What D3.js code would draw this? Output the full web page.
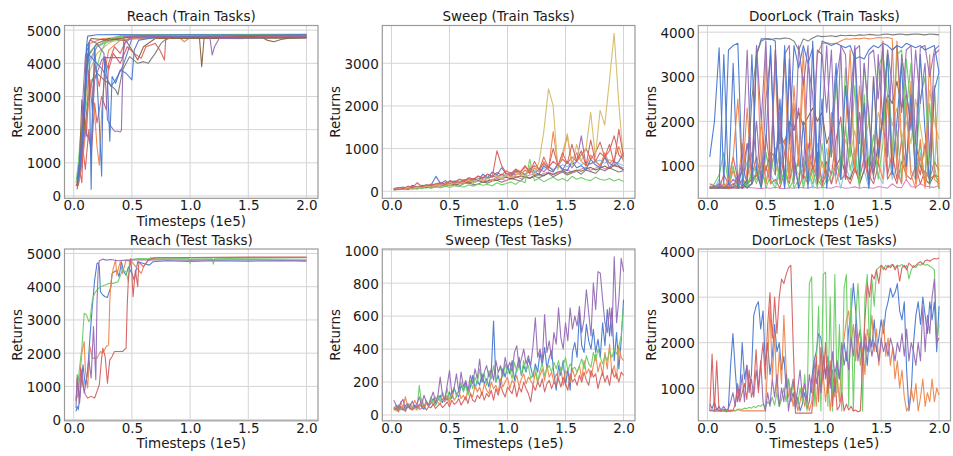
<!DOCTYPE html>
<html><head><meta charset="utf-8">
<script src="https://cdn.jsdelivr.net/npm/d3@7/dist/d3.min.js"></script>
<style>body{margin:0;background:#fff}svg{display:block}text{font-family:"DejaVu Sans",sans-serif;fill:#1a1a1a}</style>
</head><body><svg id="c" width="953" height="456"></svg>
<script>
// palette (seaborn muted)
const C = {blue:"#4878D0",orange:"#EE854A",green:"#6ACC64",red:"#D65F5F",purple:"#956CB4",brown:"#8C613C",pink:"#DC7EC0",gray:"#797979",olive:"#D5BB67",cyan:"#82C6E2"};
const xTicks = [0, 0.5, 1.0, 1.5, 2.0];
const reachTicks = [0, 1000, 2000, 3000, 4000, 5000];
const sweepTrainTicks = [0, 1000, 2000, 3000];
const doorTicks = [1000, 2000, 3000, 4000];
const sweepTestTicks = [0, 200, 400, 600, 800, 1000];

// ---------- Reach (Train Tasks): [timestep(1e5), return] ----------
const rtBlue1 = [[0.03,300],[0.06,900],[0.09,2500],[0.11,4500],[0.12,4820],[0.2,4860],[0.4,4870],[0.6,4850],[1.0,4860],[1.5,4850],[2.0,4860]];
const rtBlue2 = [[0.03,500],[0.07,1500],[0.1,3000],[0.13,4600],[0.15,200],[0.16,2500],[0.18,4500],[0.2,3500],[0.22,2200],[0.24,600],[0.25,2800],[0.27,4200],[0.29,3500],[0.31,1650],[0.33,3600],[0.36,3400],[0.4,3800],[0.45,3700],[0.5,3500],[0.52,4400],[0.56,4700],[0.7,4780],[1.0,4790],[1.5,4770],[2.0,4780]];
const rtBlue3 = [[0.04,700],[0.08,2000],[0.12,4300],[0.2,4000],[0.25,3800],[0.32,3300],[0.36,3500],[0.42,3900],[0.46,4300],[0.5,4750],[0.8,4800],[2.0,4800]];
const rtPurple1 = [[0.03,400],[0.06,1200],[0.08,3000],[0.1,4200],[0.14,4700],[0.2,4600],[0.26,4300],[0.28,3000],[0.29,2300],[0.32,2100],[0.35,1950],[0.38,1950],[0.4,1930],[0.41,1980],[0.42,3500],[0.43,4800],[0.6,4820],[1.0,4800],[1.17,4790],[1.19,4250],[1.21,4500],[1.25,4750],[2.0,4810]];
const rtPurple2 = [[0.05,800],[0.1,2000],[0.15,1500],[0.18,3500],[0.24,4100],[0.26,4170],[0.42,4170],[0.44,4600],[0.5,4800],[2.0,4850]];
const rtBrown1 = [[0.03,300],[0.05,1000],[0.07,2900],[0.09,2000],[0.11,4500],[0.15,4750],[0.3,4700],[0.5,4800],[1.0,4800],[1.08,4790],[1.1,3900],[1.12,4750],[1.5,4800],[1.62,4780],[1.66,4700],[1.72,4650],[1.78,4720],[1.85,4760],[2.0,4780]];
const rtBrown2 = [[0.04,500],[0.08,2500],[0.12,4200],[0.2,4600],[0.3,4750],[0.45,4680],[0.5,4400],[0.55,4100],[0.6,4500],[0.7,4750],[2.0,4760]];
const rtGray = [[0.04,400],[0.08,1500],[0.12,2800],[0.16,3500],[0.2,3700],[0.26,3500],[0.3,3400],[0.36,3200],[0.38,3050],[0.42,3800],[0.48,4200],[0.55,4000],[0.6,4050],[0.64,4000],[0.7,4300],[0.75,4600],[0.8,4750],[2.0,4790]];
const rtRed1 = [[0.03,200],[0.05,800],[0.07,400],[0.09,2500],[0.11,1800],[0.13,3800],[0.16,2600],[0.18,4000],[0.22,3300],[0.26,4200],[0.3,3800],[0.34,4300],[0.4,4000],[0.46,4500],[0.52,4300],[0.58,4150],[0.62,4500],[0.7,4600],[0.74,4400],[0.78,4100],[0.79,4700],[0.85,4800],[2.0,4820]];
const rtRed2 = [[0.02,300],[0.05,600],[0.08,1400],[0.1,800],[0.13,2000],[0.15,1200],[0.18,2800],[0.2,2200],[0.24,3000],[0.28,2600],[0.3,4000],[0.35,4500],[0.4,4300],[0.45,4700],[0.5,4800],[2.0,4800]];
const rtOrange1 = [[0.03,250],[0.06,700],[0.09,1500],[0.12,2500],[0.15,3500],[0.18,2500],[0.2,1500],[0.22,930],[0.24,2500],[0.27,3800],[0.3,4400],[0.4,4700],[0.5,4750],[1.0,4800],[2.0,4820]];
const rtOrange2 = [[0.04,300],[0.07,1000],[0.1,3500],[0.14,4600],[0.25,4750],[0.5,4780],[0.9,4800],[0.95,4650],[1.0,4780],[2.0,4800]];
const rtGreen1 = [[0.02,400],[0.04,1000],[0.06,1900],[0.08,1200],[0.1,3100],[0.13,4300],[0.18,4500],[0.25,4600],[0.3,4700],[0.35,4780],[0.4,4820],[2.0,4840]];
const rtGreen2 = [[0.04,600],[0.07,1800],[0.1,2600],[0.14,3300],[0.2,3900],[0.24,4400],[0.28,4650],[0.34,4700],[0.42,4850],[1.0,4870],[2.0,4870]];
const rtCyan = [[0.03,500],[0.06,1300],[0.1,3000],[0.14,4000],[0.2,4500],[0.3,4650],[0.4,4700],[0.6,4750],[1.0,4760],[1.46,4740]];
const rtPink = [[0.03,400],[0.06,1000],[0.09,2600],[0.12,4000],[0.2,4500],[0.3,4750],[0.45,4850],[2.0,4860]];
const rtOlive = [[0.04,300],[0.07,1300],[0.1,2800],[0.14,3800],[0.2,4300],[0.3,4600],[0.4,4780],[0.5,4870],[2.0,4880]];

// ---------- Reach (Test Tasks) ----------
const reBlue = [[0.02,250],[0.03,400],[0.04,300],[0.06,950],[0.08,1650],[0.1,1000],[0.12,1450],[0.14,2500],[0.16,3400],[0.18,4200],[0.2,4700],[0.21,4720],[0.22,4600],[0.23,3850],[0.25,3750],[0.27,3700],[0.29,3680],[0.3,3800],[0.32,4000],[0.33,4400],[0.35,4450],[0.37,4500],[0.39,4300],[0.41,4750],[0.43,4450],[0.45,4350],[0.47,4600],[0.5,4400],[0.52,4200],[0.55,4750],[0.6,4700],[0.65,4650],[0.68,4750],[0.8,4780],[1.0,4760],[1.2,4780],[1.5,4770],[1.8,4780],[2.0,4770]];
const reOrange = [[0.03,650],[0.05,1200],[0.07,2000],[0.09,2350],[0.1,1500],[0.12,950],[0.14,2200],[0.16,1850],[0.2,1850],[0.23,2050],[0.25,2000],[0.28,2200],[0.3,2250],[0.31,3550],[0.32,4150],[0.34,4550],[0.36,4800],[0.37,4350],[0.4,4750],[0.42,4400],[0.45,4800],[0.5,4750],[0.58,4400],[0.6,4600],[0.63,4750],[0.66,4870],[1.0,4870],[1.5,4880],[2.0,4880]];
const reGreen = [[0.02,600],[0.03,850],[0.05,1550],[0.07,2150],[0.09,3200],[0.11,3150],[0.13,2950],[0.14,3000],[0.16,3600],[0.18,3800],[0.2,3900],[0.23,4000],[0.27,4050],[0.3,4100],[0.34,4100],[0.38,4150],[0.42,4500],[0.45,4450],[0.47,4150],[0.48,4800],[0.55,4850],[0.7,4840],[0.99,4850],[1.0,4700],[1.01,4830],[1.19,4840],[1.2,4680],[1.21,4840],[1.5,4860],[2.0,4870]];
const reRed = [[0.02,550],[0.03,1250],[0.05,500],[0.06,1550],[0.08,1000],[0.1,750],[0.12,650],[0.15,700],[0.18,650],[0.2,850],[0.22,1050],[0.24,1850],[0.25,2150],[0.27,1900],[0.29,1100],[0.31,1800],[0.33,1900],[0.35,2050],[0.38,2050],[0.42,2050],[0.45,2150],[0.46,3450],[0.47,4250],[0.49,4850],[0.5,4400],[0.51,3700],[0.53,4500],[0.55,4000],[0.56,4750],[0.6,4600],[0.64,4800],[0.7,4870],[1.0,4880],[1.5,4890],[2.0,4890]];
const rePurple = [[0.02,350],[0.03,1350],[0.05,500],[0.07,1500],[0.09,800],[0.11,1200],[0.13,1800],[0.15,1250],[0.17,2800],[0.19,1200],[0.2,3500],[0.21,4500],[0.22,4780],[0.25,4830],[0.28,4800],[0.32,4820],[0.38,4780],[0.45,4800],[0.6,4810],[1.0,4800],[1.5,4810],[2.0,4800]];

// ---------- Sweep (Train Tasks): 50 evaluations, 0.02 .. 2.0 ----------
const swGray = [30,45,60,40,70,55,90,110,80,120, 140,110,160,130,120,180,200,150,170,220, 190,240,260,210,250,300,270,240,330,300, 350,310,380,420,340,400,450,380,430,470, 400,500,460,420,520,480,550,500,450,480];
const swPink = [50,70,40,60,90,70,80,110,130,100, 150,170,130,160,200,180,220,190,250,270, 230,260,300,280,250,320,350,300,330,380, 400,360,420,450,390,430,480,510,440,470, 520,560,490,540,600,520,560,620,580,550];
const swBrown = [40,50,70,60,80,100,90,120,110,140, 120,160,180,150,170,210,190,230,250,210, 240,280,260,300,330,290,320,360,340,310, 370,400,360,430,400,450,480,420,460,500, 470,520,560,500,540,590,530,600,570,500];
const swCyan = [70,90,60,80,110,100,130,160,120,150, 200,180,220,250,210,240,290,260,300,330, 300,340,380,350,400,440,390,430,480,450, 500,470,540,580,510,560,620,580,650,700, 620,680,640,700,730,660,740,690,650,600];
const swGreen = [30,60,40,80,50,70,60,90,70,100, 80,120,90,140,110,100,150,120,170,140, 160,130,200,150,180,220,160,250,200,750, 250,300,220,280,330,260,300,240,350,280, 320,270,250,330,280,260,300,240,280,230];
const swBlue = [40,70,100,60,140,90,120,80,150,350, 180,250,160,220,190,260,230,300,250,400, 320,450,380,550,400,350,480,420,380,550, 450,400,600,500,450,650,520,480,700,550, 600,500,750,620,550,800,650,600,700,900];
const swPurple = [50,70,40,90,70,110,80,130,100,160, 140,200,170,230,200,270,240,300,260,330, 300,360,320,400,350,430,380,450,400,480, 430,520,460,580,480,620,500,700,550,700, 1300,600,650,700,600,800,550,700,600,500];
const swOrange = [60,40,80,60,100,80,130,110,150,120, 180,140,200,170,230,190,260,220,280,250, 300,260,350,300,400,330,450,380,500,420, 550,450,700,500,1400,600,800,1300,650,900, 700,600,850,700,600,900,650,750,1050,700];
const swRed2 = [60,40,80,70,110,90,140,120,170,150, 200,180,240,210,280,250,320,280,360,310, 400,350,440,380,480,420,520,460,560,500, 600,520,650,560,700,600,750,650,800,700, 850,1000,750,900,1150,800,950,1300,850,750];
const swOlive = [60,80,50,90,70,100,80,120,100,150, 130,180,150,200,170,220,250,200,280,240, 300,260,350,280,400,320,380,450,350,600, 400,700,1400,2400,2000,500,900,1350,600,1100, 700,1000,1850,800,1900,1550,2600,3700,2050,700];
const swRed = [50,90,60,120,80,200,100,150,130,180, 200,160,250,190,280,230,300,260,350,300, 400,330,950,600,420,380,500,450,600,420, 700,500,800,550,1000,600,900,650,1100,700, 950,600,1200,700,900,800,1100,650,1450,800];

// ---------- DoorLock (Train Tasks): 50 evaluations ----------
const dtPink = [520,500,510,500,490,500,510,500,520,510, 500,490,510,500,520,500,490,510,500,520, 510,500,530,500,520,510,500,540,520,500, 510,530,500,520,510,500,540,520,500,600, 520,510,700,540,520,600,550,530,520,560];
const dtCyan = [550,500,700,500,600,900,500,700,1100,600, 900,500,1300,800,600,1000,500,1500,700,1200, 600,900,500,1100,700,1400,600,900,500,1000, 700,1300,600,900,500,1200,800,600,1500,700, 1000,600,2500,900,700,1300,600,1100,800,3000];
const dtOlive = [500,520,500,550,500,600,550,700,600,800, 700,900,600,1100,800,1300,900,700,1000,800, 900,1200,700,1500,1000,800,1400,1100,900,1600, 1200,1800,1000,1500,2000,1300,2200,1800,2500,1900, 2300,1600,2000,1500,2500,1900,1200,2700,2000,1600];
const dtBrown = [500,520,500,510,500,520,550,500,600,700, 800,1000,900,1300,1200,1700,1500,2000,1800,2200, 1900,2100,2300,2000,2200,1500,1800,1000,1200,800, 700,1000,600,900,1200,800,1500,2000,2600,2400, 2900,2300,2600,2000,1500,1000,700,600,800,750];
const dtRed2 = [500,520,500,550,520,600,500,700,550,600, 800,550,1000,600,700,500,900,600,1200,500, 800,600,1000,700,550,900,600,1100,700,800, 600,900,700,1200,800,600,1000,2200,700,900, 600,1100,800,700,1000,600,900,700,800,650];
const dtRed1 = [600,550,500,800,600,1200,700,900,1500,800, 1200,700,1700,900,1400,600,1300,2000,800,1100, 700,1500,900,1300,600,1100,800,1600,2100,700, 1500,900,2200,1200,600,1400,1000,3800,800,1300, 700,1600,900,2300,1200,800,1500,700,1100,900];
const dtGreen2 = [550,500,520,500,600,520,700,550,600,800, 1000,600,1300,700,500,900,600,1100,500,700, 1200,600,900,500,1500,600,800,1100,700,1900, 900,1400,500,2600,1000,1700,700,1500,3600,1200, 1800,700,3400,2300,900,1500,600,2400,1000,480];
const dtGreen1 = [500,600,800,1300,600,1000,500,700,500,900, 600,1100,500,800,1400,600,900,500,700,1200, 500,900,600,1000,500,700,1500,3000,900,3200, 1200,2800,700,3300,2000,1000,3200,3500,2600,1300, 3500,3600,2200,3300,1000,2500,3000,500,2800,500];
const dtOrange2 = [500,520,500,600,500,900,600,1500,700,1300, 800,2000,600,1200,3200,800,1600,700,2400,1000, 3000,700,1400,600,1100,800,2200,600,1000,1800, 3600,900,2800,1500,600,3000,1100,700,2500,900, 3800,1500,700,2900,600,1600,500,1200,2800,500];
const dtPurple2 = [520,500,550,500,600,520,800,500,1500,900, 2000,600,2500,3500,1000,2200,600,3000,1800,2300, 800,3300,2600,600,2000,3700,1200,2900,3600,700, 2400,3700,1500,3300,2200,700,3500,2000,3600,2800, 1000,3500,2700,1800,3600,2400,3300,1200,3500,3600];
const dtBlue2 = [500,550,500,3500,600,3300,500,1000,600,3500, 900,500,1500,3700,800,2500,500,3400,1200,500, 2000,500,3800,1000,2500,500,1800,3300,700,2800, 1500,3600,800,2400,500,3000,1200,2200,3500,800, 2000,3300,1000,2600,700,3500,1800,600,2700,3100];
const dtOrange1 = [550,500,600,500,700,1200,2500,800,2300,600, 3700,1000,3500,600,3600,1500,3400,700,2800,1200, 3600,900,2000,3500,3750,3760,3740,3750,3800,3850, 3840,3860,3850,3870,3850,3860,3880,3870,3880,3860, 900,600,2400,800,500,1200,600,3500,700,600];
const dtPurple1 = [500,520,600,500,550,700,600,1200,3600,600, 3700,2000,3800,700,3600,1500,3500,3700,600,3700, 2800,3700,1000,3600,3500,2200,3600,800,3700,3500, 1500,3600,3700,900,3500,3600,2500,3700,1200,3600, 3700,2200,3600,3700,1500,3650,3700,3000,3600,3700];
const dtBlue1 = [1200,2000,3650,600,3600,3700,3750,600,500,600, 3500,3850,3850,3850,3800,700,3700,1500,3700,3200, 3700,3300,3650,600,3800,3750,3700,3750,3700,3650, 3700,3400,3450,3400,3600,3700,3650,3750,3700,3600, 3700,3650,3750,3700,3650,3700,3600,3650,3700,3100];
const dtGray = [520,500,510,500,520,510,500,530,700,2500, 3500,3800,3850,3830,3860,3850,3870,3860,3800,3600, 3850,3800,3870,3920,3900,3910,3920,3900,3930,3920, 3930,3920,3940,3930,3950,3940,3930,3950,3960,3940, 3950,3960,3940,3950,3960,3950,3940,3960,3950,3940];

// ---------- Sweep (Test Tasks): 100 evaluations, 0.02 .. 2.0 ----------
const seBlue = [50,35,60,40,30,55,70,45,35,60, 40,65,50,35,80,55,70,100,60,90, 120,75,110,90,140,100,160,130,110,180, 150,200,130,170,240,160,210,180,250,190, 220,170,260,570,200,240,180,280,230,300, 250,330,210,280,350,240,300,260,340,290, 230,310,260,380,300,410,280,350,390,250, 150,300,240,330,180,280,150,380,440,350, 620,420,380,550,450,400,520,380,460,350, 560,420,640,480,650,330,500,280,450,700];
const seOrange = [35,60,20,80,45,110,50,70,40,90, 60,45,100,55,70,50,90,60,110,75, 65,100,80,120,70,140,90,110,150,100, 120,90,160,130,110,180,140,170,120,190, 150,130,200,160,180,140,220,170,200,230, 160,210,190,240,170,220,250,190,230,210, 180,260,200,240,280,210,300,230,260,200, 250,220,290,180,270,240,200,280,230,260, 300,220,330,250,280,230,300,370,260,320, 240,380,280,430,250,300,220,420,350,330];
const seGreen = [40,25,55,30,45,20,60,35,50,40, 30,180,60,45,90,55,110,70,60,120, 80,140,100,160,90,130,170,110,150,200, 140,180,120,210,160,230,190,280,200,250, 180,270,220,300,200,260,290,230,310,250, 280,220,320,260,300,240,330,270,300,220, 250,290,200,270,310,240,280,300,260,320, 280,330,260,300,350,270,310,280,290,260, 300,340,280,360,310,290,380,330,400,350, 310,360,330,390,350,400,370,420,480,660];
const seRed = [30,45,20,55,35,25,50,40,30,45, 55,35,40,60,30,50,45,65,40,55, 70,45,60,80,50,90,65,75,100,60, 85,110,70,130,90,80,120,100,140,90, 130,110,150,90,160,120,180,140,110,170, 150,130,190,110,170,140,200,160,130,80, 180,150,200,170,220,140,190,210,160,200, 180,220,170,230,190,150,250,200,220,180, 240,200,260,210,180,270,230,250,160,220, 260,200,240,180,280,230,250,200,260,240];
const sePurple = [90,60,40,75,95,35,60,50,85,45, 70,110,55,120,80,60,100,140,75,115, 230,120,90,180,270,130,160,250,140,260, 170,210,150,240,190,280,220,340,200,260, 300,230,280,210,330,260,300,240,350,280, 320,260,380,420,290,340,400,310,360,300, 420,590,350,400,330,610,380,450,340,500, 430,650,470,400,560,450,650,520,600,540, 660,500,580,760,620,480,800,640,870,860, 700,560,500,650,480,960,560,700,950,870];

// ---------- DoorLock (Test Tasks): 100 evaluations ----------
const deBlue = [650,550,700,520,600,500,540,510,530,1500, 2200,1400,700,1000,2000,1200,1500,1000,1300,2600, 2800,2900,2300,2700,1500,2000,1300,1700,2400,1800, 2000,1400,1700,1000,1200,700,900,550,800,500, 650,900,550,700,1200,1600,1800,2200,2100,1700, 1300,1700,1100,1400,900,1500,1200,1700,2000,1600, 2300,2600,3300,2700,2000,2300,1700,2000,1500,2200, 1900,2500,1800,2100,2500,2200,2700,2900,3200,3000, 3100,3300,2700,2500,2900,1400,500,900,2000,2600, 2900,2400,3000,2600,2200,2900,2500,2900,1800,2800];
const deOrange = [500,520,480,510,500,490,520,500,510,480, 520,500,540,510,500,500,500,500,500,500, 500,500,500,500,500,1500,2800,1200,2200,900, 1800,1100,2600,1400,800,1000,600,900,500,700, 1000,600,800,500,700,1200,600,1500,900,1300, 700,1200,500,1000,800,1300,700,1700,2100,2500, 2700,2000,2400,1600,2200,1500,1900,1300,2300,2000, 2600,1800,2300,1500,2000,2500,1700,2100,1500,1900, 1200,1600,1000,1400,800,500,600,1000,700,1100, 500,800,1200,600,900,700,1200,700,1000,850];
const deGreen = [520,500,510,490,500,520,500,510,500,490, 510,500,520,540,530,560,550,580,560,600, 570,620,600,650,580,700,640,800,620,900, 600,750,1000,700,1200,800,1100,900,650,1000, 700,1300,500,3300,3450,600,1500,2800,500,3500, 3550,600,3000,500,3500,900,2400,500,3200,3500, 600,3200,500,2500,3300,2300,500,3000,3500,1800, 3400,2800,3600,3650,3700,3600,3700,3650,3700,3720, 3650,3700,3680,3720,3650,3700,3400,3600,3700,3650, 3720,3700,3750,3700,3720,3680,3650,3600,2000,2400];
const deRed = [500,1750,500,1600,520,490,510,480,500,520, 500,650,1000,700,900,1100,750,1400,800,1000, 1850,900,1500,2000,1200,2400,3100,2100,3000,2200, 3000,3400,3300,3500,3650,3700,2000,450,450,450, 450,450,450,450,450,1000,1700,700,1900,1200, 2000,900,1600,600,1300,520,600,900,500,650, 520,600,500,520,480,500,1500,2500,3300,3000, 3500,3400,3600,3300,3700,3650,3600,3700,3650,3720, 3600,3700,3350,3650,3700,3600,3750,3700,3650,3700, 3750,3780,3720,3800,3820,3790,3830,3850,3840,3860];
const dePurple = [500,520,510,550,500,530,600,520,550,700, 900,600,1100,800,1300,700,1500,900,1200,800, 1400,1000,1600,700,500,900,600,1200,800,1300, 600,1000,700,1300,500,900,1200,600,1000,1400, 800,1100,700,1300,900,1600,1100,1400,900,1700, 1200,1500,1000,1800,1300,1600,1200,2000,1500,1800, 1400,2100,1700,2400,1600,2000,1500,2200,1800,2100, 1700,2000,1900,1600,2100,1800,2000,1700,2100,1900, 1600,2000,1800,2200,1700,2300,1600,2000,1800,1500, 2000,1600,2800,1800,2600,2200,3000,3400,2000,2100];

// evaluation timesteps (1e5)
const steps50 = d3.range(50).map(i => 0.02 + i * 1.98 / 49);
const steps100 = d3.range(100).map(i => 0.02 * (i + 1));
const zipS = (ts, vs) => vs.map((v, i) => [ts[i], v]);

const cols = [[64.5, 318], [382.3, 635], [698.3, 950.5]];
const rows = [[25.5, 198.3], [249, 420.8]];
const xDomain = [-0.079, 2.099];

const panels = [
  {title:"Reach (Train Tasks)", c:0, r:0, yd:[-70,5140], yt:reachTicks, series:[
    [rtCyan,C.cyan],[rtPink,C.pink],[rtOlive,C.olive],[rtGreen2,C.green],[rtOrange2,C.orange],[rtGray,C.gray],[rtBrown2,C.brown],[rtRed2,C.red],[rtGreen1,C.green],[rtBlue3,C.blue],[rtOrange1,C.orange],[rtRed1,C.red],[rtPurple2,C.purple],[rtBrown1,C.brown],[rtPurple1,C.purple],[rtBlue2,C.blue],[rtBlue1,C.blue]]},
  {title:"Sweep (Train Tasks)", c:1, r:0, yd:[-165,3885], yt:sweepTrainTicks, series:[
    [zipS(steps50,swGray),C.gray],[zipS(steps50,swPink),C.pink],[zipS(steps50,swBrown),C.brown],[zipS(steps50,swCyan),C.cyan],[zipS(steps50,swGreen),C.green],[zipS(steps50,swBlue),C.blue],[zipS(steps50,swPurple),C.purple],[zipS(steps50,swOrange),C.orange],[zipS(steps50,swRed2),C.red],[zipS(steps50,swOlive),C.olive],[zipS(steps50,swRed),C.red]]},
  {title:"DoorLock (Train Tasks)", c:2, r:0, yd:[274,4150], yt:doorTicks, series:[
    [zipS(steps50,dtPink),C.pink],[zipS(steps50,dtCyan),C.cyan],[zipS(steps50,dtOlive),C.olive],[zipS(steps50,dtBrown),C.brown],[zipS(steps50,dtRed2),C.red],[zipS(steps50,dtRed1),C.red],[zipS(steps50,dtGreen2),C.green],[zipS(steps50,dtGreen1),C.green],[zipS(steps50,dtOrange2),C.orange],[zipS(steps50,dtPurple2),C.purple],[zipS(steps50,dtBlue2),C.blue],[zipS(steps50,dtOrange1),C.orange],[zipS(steps50,dtPurple1),C.purple],[zipS(steps50,dtBlue1),C.blue],[zipS(steps50,dtGray),C.gray]]},
  {title:"Reach (Test Tasks)", c:0, r:1, yd:[-35,5135], yt:reachTicks, series:[
    [reBlue,C.blue],[reOrange,C.orange],[reGreen,C.green],[reRed,C.red],[rePurple,C.purple]]},
  {title:"Sweep (Test Tasks)", c:1, r:1, yd:[-35,1007], yt:sweepTestTicks, series:[
    [zipS(steps100,seBlue),C.blue],[zipS(steps100,seOrange),C.orange],[zipS(steps100,seGreen),C.green],[zipS(steps100,seRed),C.red],[zipS(steps100,sePurple),C.purple]]},
  {title:"DoorLock (Test Tasks)", c:2, r:1, yd:[282,4059], yt:doorTicks, series:[
    [zipS(steps100,deBlue),C.blue],[zipS(steps100,deOrange),C.orange],[zipS(steps100,deGreen),C.green],[zipS(steps100,dePurple),C.purple],[zipS(steps100,deRed),C.red]]}
];

const svg = d3.select("#c");
const FS = 13.5;
panels.forEach((p, k) => {
  const [x0, x1] = cols[p.c], [y0, y1] = rows[p.r];
  const x = d3.scaleLinear().domain(xDomain).range([x0, x1]);
  const y = d3.scaleLinear().domain(p.yd).range([y1, y0]);
  const g = svg.append("g");
  g.selectAll(".vg").data(xTicks).join("line").attr("x1", d => x(d)).attr("x2", d => x(d))
    .attr("y1", y0).attr("y2", y1).attr("stroke", "#d4d4d4").attr("stroke-width", 1);
  g.selectAll(".hg").data(p.yt).join("line").attr("y1", d => y(d)).attr("y2", d => y(d))
    .attr("x1", x0).attr("x2", x1).attr("stroke", "#d4d4d4").attr("stroke-width", 1);
  const clipId = "clip" + k;
  svg.append("clipPath").attr("id", clipId).append("rect").attr("x", x0).attr("y", y0).attr("width", x1 - x0).attr("height", y1 - y0);
  const line = d3.line().x(d => x(d[0])).y(d => y(d[1]));
  const lg = g.append("g").attr("clip-path", `url(#${clipId})`);
  p.series.forEach(([data, col]) => {
    lg.append("path").attr("d", line(data)).attr("fill", "none").attr("stroke", col)
      .attr("stroke-width", 1.1).attr("stroke-opacity", 0.95).attr("stroke-linejoin", "round");
  });
  g.append("rect").attr("x", x0).attr("y", y0).attr("width", x1 - x0).attr("height", y1 - y0)
    .attr("fill", "none").attr("stroke", "#9a9a9a").attr("stroke-width", 1.2);
  const xa = d3.axisBottom(x).tickValues(xTicks).tickFormat(d3.format(".1f")).tickSize(0).tickPadding(0);
  const xg = g.append("g").attr("transform", `translate(0,${y1})`).call(xa);
  xg.select(".domain").remove();
  xg.selectAll("text").attr("font-family", "DejaVu Sans").attr("font-size", FS).attr("fill", "#1a1a1a").attr("y", 12).attr("dy", null);
  const ya = d3.axisLeft(y).tickValues(p.yt).tickFormat(d3.format("d")).tickSize(0).tickPadding(3.5);
  const yg = g.append("g").attr("transform", `translate(${x0},0)`).call(ya);
  yg.select(".domain").remove();
  yg.selectAll("text").attr("font-family", "DejaVu Sans").attr("font-size", FS).attr("fill", "#1a1a1a").attr("dy", "0.36em");
  g.append("text").attr("x", (x0 + x1) / 2).attr("y", y0 - 4.5).attr("text-anchor", "middle").attr("font-size", FS).text(p.title);
  g.append("text").attr("x", (x0 + x1) / 2).attr("y", y1 + 27.5).attr("text-anchor", "middle").attr("font-size", FS).text("Timesteps (1e5)");
  g.append("text").attr("transform", `translate(${x0 - 47.5},${(y0 + y1) / 2}) rotate(-90)`)
    .attr("text-anchor", "middle").attr("dominant-baseline", "central").attr("font-size", FS).text("Returns");
});
</script></body></html>
